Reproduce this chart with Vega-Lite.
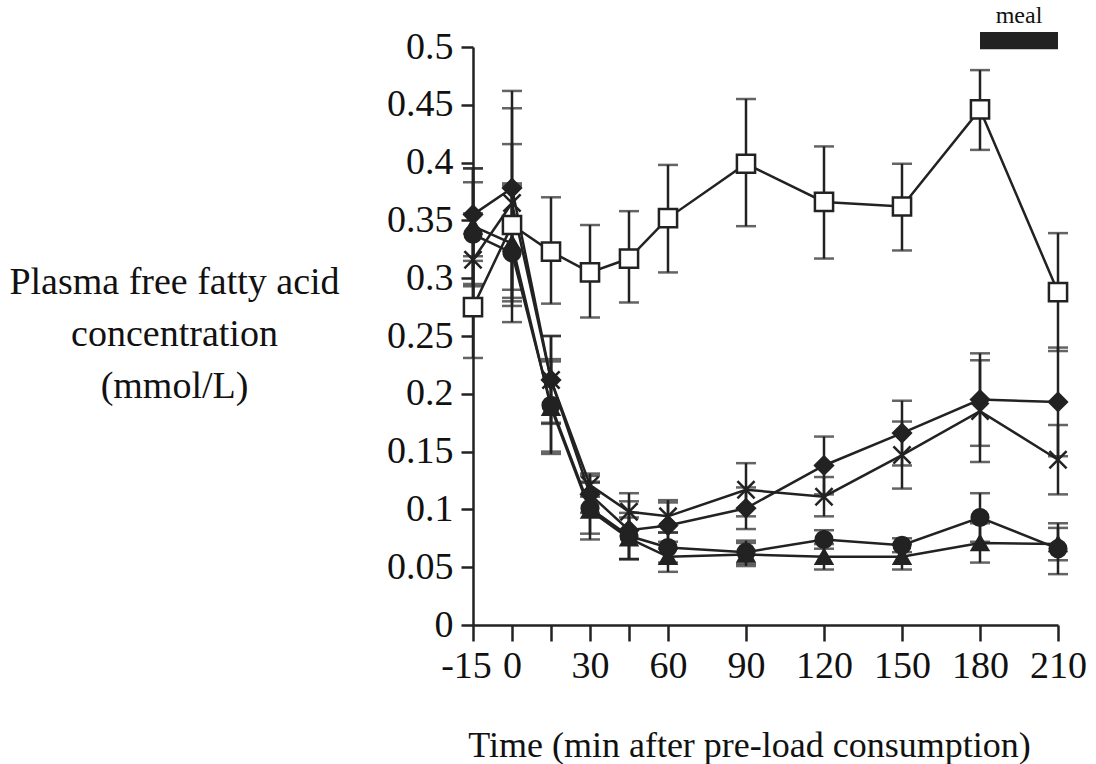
{
  "$schema": "https://vega.github.io/schema/vega-lite/v6.json",
  "width": 585,
  "height": 578,
  "autosize": {"type": "none"},
  "padding": {"left": 473, "top": 47, "right": 38, "bottom": 139},
  "background": "white",
  "config": {
    "view": {"stroke": null},
    "font": "Liberation Serif",
    "axis": {
      "grid": false,
      "domainColor": "#222",
      "domainWidth": 2.5,
      "tickColor": "#222",
      "tickWidth": 2.5,
      "labelFont": "Liberation Serif",
      "labelFontSize": 38,
      "labelColor": "#111",
      "labelOverlap": false,
      "labelFlush": false,
      "titleFont": "Liberation Serif",
      "titleFontSize": 38,
      "titleFontWeight": "normal",
      "titleColor": "#111"
    }
  },
  "datasets": {
    "ffa": [
      {"series": "square", "t": -15, "v": 0.275, "lo": 0.231, "hi": 0.319},
      {"series": "square", "t": 0, "v": 0.346, "lo": 0.276, "hi": 0.416},
      {"series": "square", "t": 15, "v": 0.323, "lo": 0.278, "hi": 0.370},
      {"series": "square", "t": 30, "v": 0.305, "lo": 0.266, "hi": 0.346},
      {"series": "square", "t": 45, "v": 0.317, "lo": 0.279, "hi": 0.358},
      {"series": "square", "t": 60, "v": 0.352, "lo": 0.305, "hi": 0.398},
      {"series": "square", "t": 90, "v": 0.399, "lo": 0.345, "hi": 0.455},
      {"series": "square", "t": 120, "v": 0.366, "lo": 0.317, "hi": 0.414},
      {"series": "square", "t": 150, "v": 0.362, "lo": 0.324, "hi": 0.399},
      {"series": "square", "t": 180, "v": 0.446, "lo": 0.411, "hi": 0.480},
      {"series": "square", "t": 210, "v": 0.288, "lo": 0.237, "hi": 0.339},

      {"series": "diamond", "t": -15, "v": 0.355, "lo": 0.315, "hi": 0.395},
      {"series": "diamond", "t": 0, "v": 0.378, "lo": 0.290, "hi": 0.462},
      {"series": "diamond", "t": 15, "v": 0.212, "lo": 0.175, "hi": 0.250},
      {"series": "diamond", "t": 30, "v": 0.113, "lo": 0.097, "hi": 0.129},
      {"series": "diamond", "t": 45, "v": 0.082, "lo": 0.057, "hi": 0.107},
      {"series": "diamond", "t": 60, "v": 0.086, "lo": 0.066, "hi": 0.106},
      {"series": "diamond", "t": 90, "v": 0.101, "lo": 0.083, "hi": 0.119},
      {"series": "diamond", "t": 120, "v": 0.138, "lo": 0.113, "hi": 0.163},
      {"series": "diamond", "t": 150, "v": 0.166, "lo": 0.138, "hi": 0.194},
      {"series": "diamond", "t": 180, "v": 0.195, "lo": 0.155, "hi": 0.235},
      {"series": "diamond", "t": 210, "v": 0.193, "lo": 0.146, "hi": 0.240},

      {"series": "cross", "t": -15, "v": 0.316, "lo": 0.276, "hi": 0.356},
      {"series": "cross", "t": 0, "v": 0.365, "lo": 0.283, "hi": 0.447},
      {"series": "cross", "t": 15, "v": 0.212, "lo": 0.174, "hi": 0.250},
      {"series": "cross", "t": 30, "v": 0.121, "lo": 0.111, "hi": 0.131},
      {"series": "cross", "t": 45, "v": 0.098, "lo": 0.082, "hi": 0.114},
      {"series": "cross", "t": 60, "v": 0.094, "lo": 0.080, "hi": 0.108},
      {"series": "cross", "t": 90, "v": 0.117, "lo": 0.094, "hi": 0.140},
      {"series": "cross", "t": 120, "v": 0.111, "lo": 0.094, "hi": 0.128},
      {"series": "cross", "t": 150, "v": 0.147, "lo": 0.118, "hi": 0.176},
      {"series": "cross", "t": 180, "v": 0.185, "lo": 0.141, "hi": 0.229},
      {"series": "cross", "t": 210, "v": 0.143, "lo": 0.113, "hi": 0.173},

      {"series": "circle", "t": -15, "v": 0.338, "lo": 0.293, "hi": 0.383},
      {"series": "circle", "t": 0, "v": 0.322, "lo": 0.262, "hi": 0.382},
      {"series": "circle", "t": 15, "v": 0.190, "lo": 0.150, "hi": 0.230},
      {"series": "circle", "t": 30, "v": 0.101, "lo": 0.079, "hi": 0.123},
      {"series": "circle", "t": 45, "v": 0.077, "lo": 0.057, "hi": 0.097},
      {"series": "circle", "t": 60, "v": 0.067, "lo": 0.054, "hi": 0.080},
      {"series": "circle", "t": 90, "v": 0.063, "lo": 0.053, "hi": 0.073},
      {"series": "circle", "t": 120, "v": 0.074, "lo": 0.066, "hi": 0.082},
      {"series": "circle", "t": 150, "v": 0.069, "lo": 0.063, "hi": 0.075},
      {"series": "circle", "t": 180, "v": 0.093, "lo": 0.072, "hi": 0.114},
      {"series": "circle", "t": 210, "v": 0.066, "lo": 0.044, "hi": 0.088},

      {"series": "triangle", "t": -15, "v": 0.345, "lo": 0.295, "hi": 0.395},
      {"series": "triangle", "t": 0, "v": 0.330, "lo": 0.280, "hi": 0.380},
      {"series": "triangle", "t": 15, "v": 0.188, "lo": 0.148, "hi": 0.228},
      {"series": "triangle", "t": 30, "v": 0.099, "lo": 0.074, "hi": 0.124},
      {"series": "triangle", "t": 45, "v": 0.075, "lo": 0.057, "hi": 0.093},
      {"series": "triangle", "t": 60, "v": 0.059, "lo": 0.046, "hi": 0.072},
      {"series": "triangle", "t": 90, "v": 0.061, "lo": 0.051, "hi": 0.071},
      {"series": "triangle", "t": 120, "v": 0.059, "lo": 0.048, "hi": 0.070},
      {"series": "triangle", "t": 150, "v": 0.059, "lo": 0.048, "hi": 0.070},
      {"series": "triangle", "t": 180, "v": 0.071, "lo": 0.054, "hi": 0.088},
      {"series": "triangle", "t": 210, "v": 0.070, "lo": 0.056, "hi": 0.084}
    ],
    "meal": [
      {"start": 180, "end": 210, "mid": 195, "lo": 0.498, "hi": 0.513, "label": "meal"}
    ]
  },
  "layer": [
    {
      "data": {"name": "ffa"},
      "mark": {"type": "line", "color": "#222", "strokeWidth": 2.5},
      "encoding": {
        "x": {
          "field": "t",
          "type": "quantitative",
          "scale": {"domain": [-15, 210], "nice": false, "zero": false},
          "axis": {
            "title": "Time (min after pre-load consumption)",
            "values": [-15, 0, 15, 30, 45, 60, 90, 120, 150, 180, 210],
            "labelExpr": "datum.value == 15 || datum.value == 45 ? '' : (datum.value == -15 ? '-15' : datum.label)",
            "labelOffset": {"condition": {"test": "datum.value == -15", "value": -7}, "value": 0},
            "tickSize": 16,
            "labelPadding": 6,
            "titleFontSize": 36,
            "titleX": 276,
            "titleY": 120,
            "titleAnchor": "start",
            "titleAlign": "center",
            "titleBaseline": "middle"
          }
        },
        "y": {
          "field": "v",
          "type": "quantitative",
          "scale": {"domain": [0, 0.5], "nice": false, "zero": true},
          "axis": {
            "title": ["Plasma free fatty acid", "concentration", "(mmol/L)"],
            "values": [0, 0.05, 0.1, 0.15, 0.2, 0.25, 0.3, 0.35, 0.4, 0.45, 0.5],
            "format": "~g",
            "tickSize": 12,
            "labelPadding": 8,
            "titleAngle": 0,
            "titleAlign": "center",
            "titleBaseline": "middle",
            "titleX": -299,
            "titleY": 235,
            "titleLineHeight": 52
          }
        },
        "detail": {"field": "series"}
      }
    },
    {
      "data": {"name": "ffa"},
      "mark": {"type": "rule", "color": "#222", "strokeWidth": 2.5},
      "encoding": {
        "x": {"field": "t", "type": "quantitative"},
        "y": {"field": "lo", "type": "quantitative"},
        "y2": {"field": "hi"}
      }
    },
    {
      "data": {"name": "ffa"},
      "mark": {"type": "tick", "orient": "horizontal", "size": 20, "thickness": 2.5, "color": "#222"},
      "encoding": {
        "x": {"field": "t", "type": "quantitative"},
        "y": {"field": "lo", "type": "quantitative"}
      }
    },
    {
      "data": {"name": "ffa"},
      "mark": {"type": "tick", "orient": "horizontal", "size": 20, "thickness": 2.5, "color": "#222"},
      "encoding": {
        "x": {"field": "t", "type": "quantitative"},
        "y": {"field": "hi", "type": "quantitative"}
      }
    },
    {
      "data": {"name": "ffa"},
      "mark": {"type": "point", "filled": false, "stroke": "#222", "strokeWidth": 2.5, "opacity": 1},
      "encoding": {
        "x": {"field": "t", "type": "quantitative"},
        "y": {"field": "v", "type": "quantitative"},
        "shape": {
          "field": "series",
          "type": "nominal",
          "scale": {
            "domain": ["triangle", "circle", "cross", "diamond", "square"],
            "range": ["triangle-up", "circle", "M-1,-1L1,1M-1,1L1,-1", "diamond", "square"]
          },
          "legend": null
        },
        "fill": {
          "field": "series",
          "type": "nominal",
          "scale": {
            "domain": ["triangle", "circle", "cross", "diamond", "square"],
            "range": ["#222", "#222", "#222", "#222", "white"]
          },
          "legend": null
        },
        "size": {
          "field": "series",
          "type": "nominal",
          "scale": {
            "domain": ["triangle", "circle", "cross", "diamond", "square"],
            "range": [260, 330, 360, 330, 390]
          },
          "legend": null
        },
        "order": {"field": "series", "sort": "descending"}
      }
    },
    {
      "data": {"name": "meal"},
      "mark": {"type": "rect", "color": "#222"},
      "encoding": {
        "x": {"field": "start", "type": "quantitative"},
        "x2": {"field": "end"},
        "y": {"field": "lo", "type": "quantitative"},
        "y2": {"field": "hi"}
      }
    },
    {
      "data": {"name": "meal"},
      "mark": {"type": "text", "font": "Liberation Serif", "fontSize": 24, "color": "#111", "baseline": "bottom", "align": "center", "dy": -4},
      "encoding": {
        "x": {"field": "mid", "type": "quantitative"},
        "y": {"field": "hi", "type": "quantitative"},
        "text": {"field": "label"}
      }
    }
  ]
}
